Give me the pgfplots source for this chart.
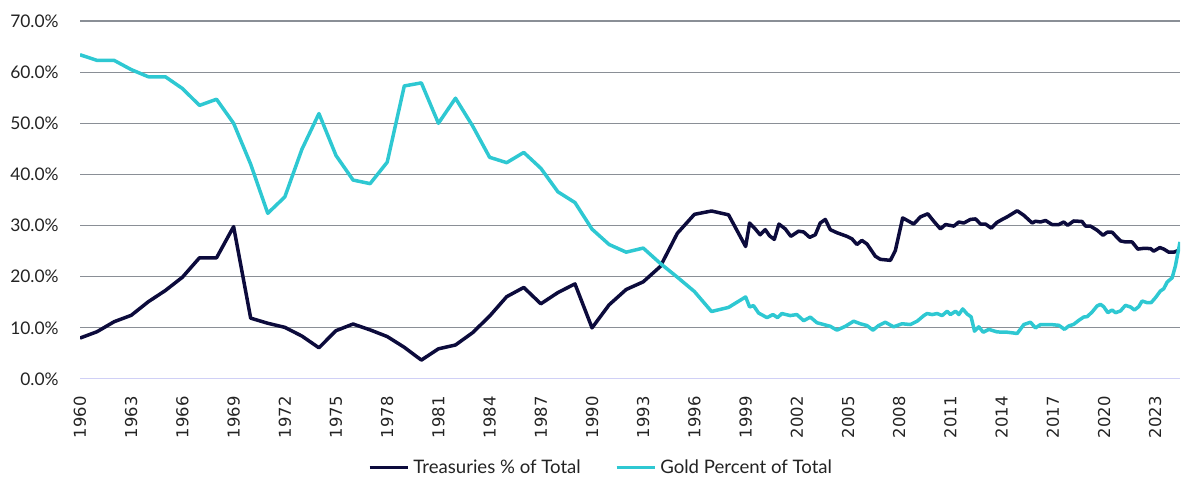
\documentclass[border=0pt]{standalone}
\usepackage{fontspec}
\setmainfont{Lato}
\newfontfamily\dejavu{DejaVu Sans}
\usepackage{pgfplots}
\pgfplotsset{compat=1.18}
\definecolor{navy}{RGB}{12,11,60}
\definecolor{gold}{RGB}{46,200,210}
\definecolor{gridc}{RGB}{138,143,150}
\definecolor{basec}{RGB}{208,208,246}
\definecolor{txt}{RGB}{35,35,35}
\begin{document}
\begin{tikzpicture}
\useasboundingbox (0,0) rectangle (600pt,249pt);
\begin{axis}[
  at={(40pt,59.5pt)}, anchor=south west,
  scale only axis, width=550pt, height=179pt,
  xmin=1960, xmax=2024.45, ymin=0, ymax=70,
  axis line style={draw=none},
  major tick length=0pt,
  ytick={10,20,30,40,50,60,70},
  yticklabels={10.0\%,20.0\%,30.0\%,40.0\%,50.0\%,60.0\%,70.0\%},
  extra y ticks={0}, extra y tick labels={0.0\%},
  extra y tick style={ymajorgrids=false},
  xtick={1960,1963,1966,1969,1972,1975,1978,1981,1984,1987,1990,1993,1996,1999,2002,2005,2008,2011,2014,2017,2020,2023},
  xticklabels={1960,1963,1966,1969,1972,1975,1978,1981,1984,1987,1990,1993,1996,1999,2002,2005,2008,2011,2014,2017,2020,2023},
  yticklabel style={font=\fontsize{8.7}{10}\selectfont, text=txt, anchor=east, inner sep=0pt, xshift=-10.5pt},
  xticklabel style={font=\dejavu\fontsize{8.2}{9}\selectfont, text=txt, inner sep=0pt, yshift=-8.5pt, rotate=90, anchor=east},
  ymajorgrids, grid style={gridc, line width=0.6pt},
  legend style={at={(0.4745,-0.2478)}, anchor=center, draw=none, legend columns=2,
    font=\fontsize{9.3}{11}\selectfont, text=txt,
    /tikz/every even column/.append style={column sep=15pt}},
  legend image code/.code={\draw[#1, line width=1.75pt] (0pt,0pt) -- (19pt,0pt);},
  legend cell align=left,
]
\draw[basec, line width=0.8pt] (axis cs:1960,0) -- (axis cs:2024.45,0);
\addplot[navy, line width=1.75pt, line join=round] coordinates {
(1960,8.0) (1961,9.25) (1962,11.2) (1963,12.45) (1964,15.1) (1965,17.3) (1966,19.9) (1967,23.7) (1968,23.7) (1969,29.8)
(1970,11.9) (1971,10.9) (1972,10.1) (1973,8.4) (1974,6.1) (1975,9.45) (1976,10.75) (1977,9.6) (1978,8.3) (1979,6.2)
(1980,3.7) (1981,5.9) (1982,6.65) (1983,9.05) (1984,12.3) (1985,16.1) (1986,17.9) (1987,14.7) (1988,16.9) (1989,18.6)
(1990,10.0) (1991,14.5) (1992,17.5) (1993,19.0) (1994,22.0) (1995,28.5) (1996,32.2) (1997,32.85) (1998,32.1)
(1999.0,25.9) (1999.23,30.5) (1999.56,29.35) (1999.85,28.2) (2000.15,29.2) (2000.4,28.0) (2000.68,27.3) (2000.95,30.3)
(2001.32,29.35) (2001.65,27.9) (2002.1,28.9) (2002.4,28.75) (2002.75,27.7) (2003.08,28.2) (2003.37,30.5) (2003.67,31.2)
(2003.96,29.2) (2004.35,28.6) (2004.93,27.9) (2005.23,27.4) (2005.52,26.3) (2005.81,27.1) (2006.11,26.4) (2006.6,24.0)
(2006.89,23.4) (2007.48,23.2) (2007.77,25.1) (2008.2,31.5) (2008.85,30.3) (2009.24,31.7) (2009.67,32.3) (2010.02,30.85)
(2010.41,29.35) (2010.71,30.2) (2011.2,29.9) (2011.49,30.7) (2011.78,30.5) (2012.17,31.2) (2012.47,31.3) (2012.76,30.3)
(2013.05,30.3) (2013.39,29.5) (2013.74,30.65) (2014.03,31.2) (2014.32,31.7) (2014.91,32.9) (2015.3,32.0) (2015.79,30.5)
(2015.98,30.85) (2016.28,30.7) (2016.57,31.0) (2016.95,30.2) (2017.35,30.2) (2017.64,30.7) (2017.87,30.05) (2018.22,30.9)
(2018.71,30.8) (2018.91,29.9) (2019.2,29.9) (2019.59,29.1) (2019.94,28.1) (2020.18,28.7) (2020.47,28.7) (2020.96,27.0)
(2021.25,26.8) (2021.64,26.8) (2021.98,25.4) (2022.33,25.55) (2022.72,25.5) (2022.91,25.0) (2023.27,25.7) (2023.5,25.4)
(2023.79,24.8) (2024.09,24.8) (2024.4,25.2)
};
\addlegendentry{Treasuries \% of Total}
\addplot[gold, line width=1.75pt, line join=round] coordinates {
(1960,63.4) (1961,62.3) (1962,62.3) (1963,60.5) (1964,59.1) (1965,59.1) (1966,56.8) (1967,53.5) (1968,54.7) (1969,50.0)
(1970,42.0) (1971,32.4) (1972,35.6) (1973,44.9) (1974,51.9) (1975,43.7) (1976,38.9) (1977,38.2) (1978,42.4) (1979,57.3)
(1980,57.9) (1981,50.0) (1982,54.9) (1983,49.5) (1984,43.35) (1985,42.3) (1986,44.3) (1987,41.2) (1988,36.6) (1989,34.5)
(1990,29.3) (1991,26.3) (1992,24.8) (1993,25.6) (1994,22.6) (1995,19.9) (1996,17.1) (1997,13.2) (1998,14.0)
(1999.0,16.05) (1999.23,14.1) (1999.46,14.35) (1999.76,12.9) (2000.25,12.0) (2000.6,12.6) (2000.87,12.0) (2001.12,12.8)
(2001.61,12.4) (2002.0,12.6) (2002.4,11.4) (2002.79,12.1) (2003.18,11.0) (2003.57,10.65) (2003.96,10.3) (2004.35,9.55)
(2004.84,10.3) (2005.33,11.3) (2005.72,10.8) (2006.11,10.45) (2006.46,9.55) (2006.79,10.45) (2007.18,11.1) (2007.67,10.2)
(2008.16,10.8) (2008.65,10.65) (2009.05,11.3) (2009.44,12.4) (2009.63,12.8) (2009.93,12.6) (2010.22,12.8) (2010.51,12.4)
(2010.81,13.25) (2011.0,12.6) (2011.3,13.25) (2011.49,12.6) (2011.72,13.7) (2011.98,12.7) (2012.21,12.15) (2012.41,9.35)
(2012.66,10.2) (2012.92,9.15) (2013.25,9.7) (2013.74,9.2) (2014.32,9.15) (2014.91,8.9) (2015.3,10.65) (2015.69,11.1)
(2015.98,10.0) (2016.28,10.65) (2016.86,10.65) (2017.35,10.5) (2017.68,9.71) (2017.93,10.36) (2018.22,10.69) (2018.52,11.47)
(2018.81,12.12) (2019.01,12.19) (2019.3,13.1) (2019.59,14.27) (2019.79,14.6) (2019.98,14.14) (2020.22,12.97) (2020.47,13.49)
(2020.67,12.97) (2020.96,13.3) (2021.25,14.4) (2021.55,14.08) (2021.78,13.49) (2022.03,14.14) (2022.23,15.25) (2022.52,14.93)
(2022.76,14.93) (2023.01,15.9) (2023.3,17.2) (2023.5,17.66) (2023.7,18.97) (2023.99,19.8) (2024.18,22.1) (2024.45,26.8)
};
\addlegendentry{Gold Percent of Total}
\end{axis}
\end{tikzpicture}
\end{document}
